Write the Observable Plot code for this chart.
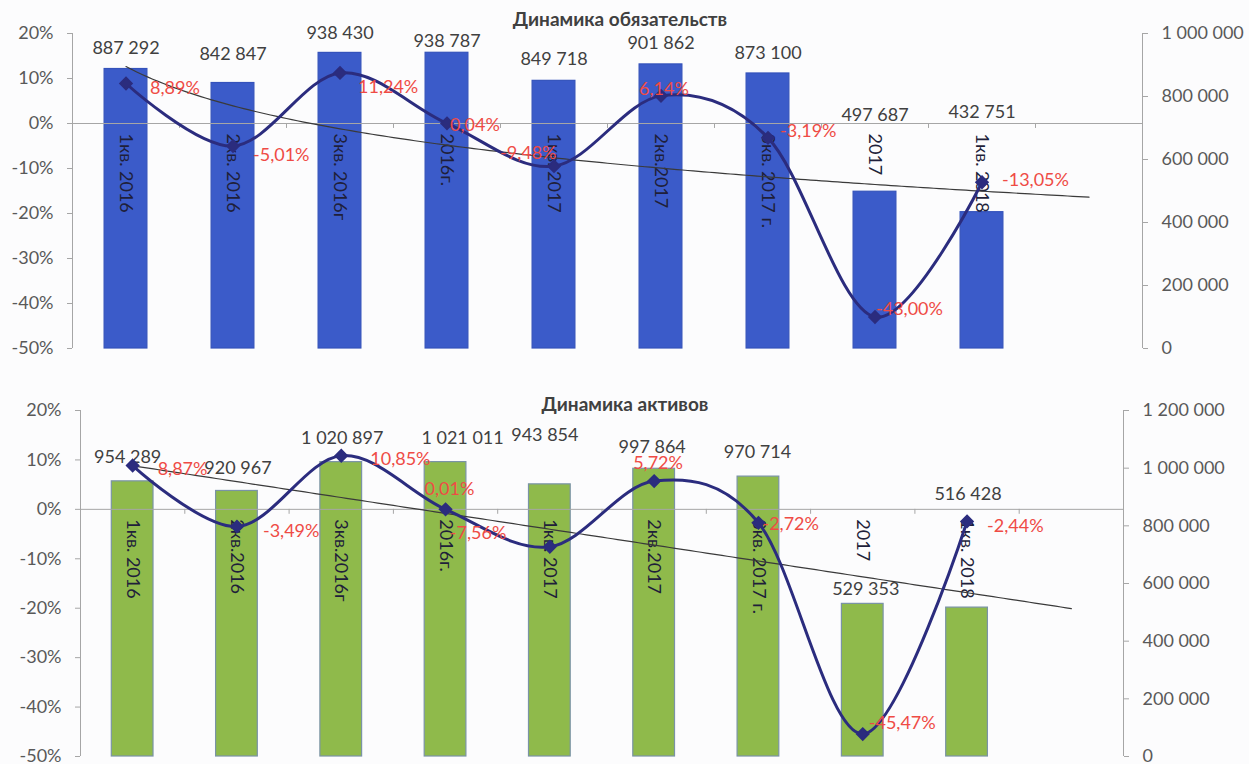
<!DOCTYPE html>
<html><head><meta charset="utf-8">
<script src="https://cdn.jsdelivr.net/npm/d3@7"></script>
<script src="https://cdn.jsdelivr.net/npm/@observablehq/plot@0.6"></script>
<style>
html,body{margin:0;padding:0;background:#fcfcfd;}
#wrap{position:relative;width:1249px;height:764px;overflow:hidden;font-family:Lato,sans-serif;}
.panel{position:absolute;left:0;width:1249px;}
.panel svg{position:absolute;left:0;top:0;overflow:visible;}
.title{position:absolute;font-weight:bold;font-size:19px;color:#404040;transform:translate(-50%,-50%);white-space:nowrap;font-family:Lato,sans-serif;}
g[aria-label^="y-axis"] line, g[aria-label^="y-axis"] path{stroke:#a6a6a6;}
</style></head><body><div id="wrap"></div>
<script>
// ---- data ----
const categoriesTop = ["1кв. 2016", "2кв. 2016", "3кв. 2016г", "2016г.", "1кв. 2017", "2кв.2017", "3кв. 2017 г.", "2017", "1кв. 2018"];
const liabilities = [887292, 842847, 938430, 938787, 849718, 901862, 873100, 497687, 432751];
const liabilitiesChange = [8.89, -5.01, 11.24, 0.04, -9.48, 6.14, -3.19, -43.00, -13.05];

const categoriesBottom = ["1кв. 2016", "2кв.2016", "3кв.2016г", "2016г.", "1кв. 2017", "2кв.2017", "3кв. 2017 г.", "2017", "1кв. 2018"];
const assets = [954289, 920967, 1020897, 1021011, 943854, 997864, 970714, 529353, 516428];
const assetsChange = [8.87, -3.49, 10.85, 0.01, -7.56, 5.72, -2.72, -45.47, -2.44];

const pctTicks = [-50, -40, -30, -20, -10, 0, 10, 20];
const rightTicksTop = [0, 200000, 400000, 600000, 800000, 1000000];
const rightTicksBottom = [0, 200000, 400000, 600000, 800000, 1000000, 1200000];

// ---- layout / label placement (pixels) ----
const panels = [
  {
    title: "Динамика обязательств", titleX: 620, titleY: 18,
    cats: categoriesTop, values: liabilities, pct: liabilitiesChange,
    rightTicks: rightTicksTop, rightMax: 1000000,
    top: 0, height: 380, mt: 33, mb: 32, ml: 72, mr: 107,
    barFill: "#3b5bc9", barStroke: "#3452bb", trend: "log",
    valDx: [0, 0, 0, 0, 0, 0, 0, 0, 0],
    valDy: [-21, -29, -20, -12, -22, -21, -20, -76, -100],
    pctDx: [24, 20, 18, 3, -54, -22, 12, 1, 20],
    pctDy: [5, 9, 14, 2, -13, -7, -7, -8, -2],
    tickLen: 1.1
  },
  {
    title: "Динамика активов", titleX: 625, titleY: 403,
    cats: categoriesBottom, values: assets, pct: assetsChange,
    rightTicks: rightTicksBottom, rightMax: 1200000,
    top: 380, height: 384, mt: 30, mb: 8, ml: 80, mr: 126,
    barFill: "#8fba4b", barStroke: "#7a93a6", trend: "linear",
    valDx: [-5, 1, 1, 17, -5, -2, -1, 3, 1],
    valDy: [-24, -23, -24, -24, -49, -22, -24, -15, -113],
    pctDx: [25, 26, 29, -21, -100, -21, 4, 6, 20],
    pctDy: [4, 5, 4, -20, -13, -18, 1, -11, 5],
    tickLen: 1.0
  }
];

// Trendline (Excel-style least squares fit of the % series, forecast 1 period forward)
function fitTrend(ys, kind) {
  const xs = ys.map((_, i) => i + 1);
  const fx = kind === "log" ? (x => Math.log(x)) : (x => x);
  const u = xs.map(fx);
  const mu = d3.mean(u), my = d3.mean(ys);
  const b = d3.sum(u.map((v, i) => (v - mu) * (ys[i] - my))) / d3.sum(u.map(v => (v - mu) ** 2));
  const a = my - b * mu;
  return d3.range(1, 10.001, 0.05).map(x => ({x, y: a + b * fx(x)}));
}

const fmtNum = d => d3.format(",")(d).replace(/,/g, " ");
const fmtPct = d => d.toFixed(2).replace(".", ",") + "%";
const wrap = document.getElementById("wrap");

for (const P of panels) {
  const rows = P.cats.map((c, i) => ({i: i + 1, cat: c, v: P.values[i], p: P.pct[i], k: i}));
  const div = document.createElement("div");
  div.className = "panel";
  div.style.top = P.top + "px";
  div.style.height = P.height + "px";
  wrap.appendChild(div);

  const common = {
    width: 1249, height: P.height,
    marginTop: P.mt, marginBottom: P.mb, marginLeft: P.ml, marginRight: P.mr,
    style: {background: "transparent", fontFamily: "Lato, sans-serif", fontSize: "18px", color: "#595959", overflow: "visible"}
  };

  // Bars with right axis
  const barsLabels = rows.map(d => Plot.text([d], {x: "i", y: "v", text: r => fmtNum(r.v), fill: "#404040", fontSize: 18, dx: P.valDx[d.k], dy: P.valDy[d.k]}));
  const bars = Plot.plot({
    ...common,
    x: {domain: [0.5, 10.5], axis: null},
    y: {domain: [0, P.rightMax], ticks: P.rightTicks, tickFormat: fmtNum, axis: "right", tickSize: 5, tickPadding: 14, label: null},
    marks: [
      Plot.ruleX([10.5], {stroke: "#a6a6a6"}),
      Plot.rectY(rows, {x1: d => d.i - 0.2, x2: d => d.i + 0.2, y1: 0, y2: "v", fill: P.barFill, stroke: P.barStroke, strokeWidth: 1.2}),
      ...barsLabels
    ]
  });
  div.appendChild(bars);

  // Smoothed % line with left axis
  const trend = fitTrend(P.pct, P.trend);
  const boundaries = d3.range(1.5, 10, 1);
  const pctLabels = rows.map(d => Plot.text([d], {x: "i", y: "p", text: r => fmtPct(r.p), fill: "#ef4b45", fontSize: 18, textAnchor: "start", dx: P.pctDx[d.k], dy: P.pctDy[d.k]}));
  const line = Plot.plot({
    ...common,
    x: {domain: [0.5, 10.5], axis: null},
    y: {domain: [-50, 20], ticks: pctTicks, tickFormat: d => d + "%", axis: "left", tickSize: 5, tickPadding: 14, label: null},
    marks: [
      Plot.ruleX([0.5], {stroke: "#a6a6a6"}),
      Plot.ruleY([0], {stroke: "#a6a6a6"}),
      Plot.ruleX(boundaries, {y1: 0, y2: -P.tickLen, stroke: "#a6a6a6"}),
      Plot.text(rows, {x: "i", y: 0, text: "cat", rotate: 90, textAnchor: "start", dy: 10, fill: "#1f1f3a", fontSize: 18}),
      Plot.line(trend, {x: "x", y: "y", stroke: "#3a3a3a", strokeWidth: 1.2}),
      Plot.line(rows, {x: "i", y: "p", curve: "cardinal", stroke: "#2b2c7e", strokeWidth: 3}),
      Plot.dot(rows, {x: "i", y: "p", symbol: "diamond2", r: 5.5, fill: "#2b2c7e", stroke: "#2b2c7e"}),
      ...pctLabels
    ]
  });
  div.appendChild(line);

  const t = document.createElement("div");
  t.className = "title";
  t.textContent = P.title;
  t.style.left = P.titleX + "px";
  t.style.top = (P.titleY - P.top) + "px";
  div.appendChild(t);
}
</script></body></html>
